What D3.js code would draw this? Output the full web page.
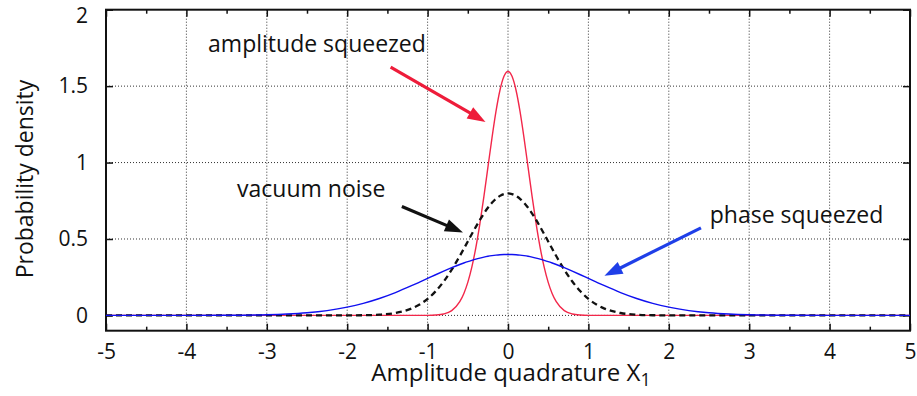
<html>
<head>
<meta charset="utf-8">
<title>Probability density</title>
<script src="https://cdnjs.cloudflare.com/ajax/libs/d3/7.8.5/d3.min.js"></script>
<style>
  body { margin: 0; background: #fff; }
  text { font-family: "Open Sans", "Noto Sans", sans-serif; fill: #111; }
</style>
</head>
<body>
<script>
// x positions the curves were read at
var xs = [-5, -4.5, -4, -3.5, -3, -2.75, -2.5, -2.25, -2, -1.8, -1.6, -1.4, -1.2, -1.1, -1, -0.9, -0.8, -0.7,
  -0.6, -0.55, -0.5, -0.45, -0.4, -0.35, -0.3, -0.25, -0.2, -0.15, -0.1, -0.05, 0,
  0.05, 0.1, 0.15, 0.2, 0.25, 0.3, 0.35, 0.4, 0.45, 0.5, 0.55, 0.6,
  0.7, 0.8, 0.9, 1, 1.1, 1.2, 1.4, 1.6, 1.8, 2, 2.25, 2.5, 2.75, 3, 3.5, 4, 4.5, 5];

// amplitude squeezed (red)
var amplitude = [0, 0, 0, 0, 0, 0, 0, 0, 0, 0, 0, 0, 0, 0.0001, 0.0005, 0.0025, 0.0095, 0.0317,
  0.0896, 0.1419, 0.2160, 0.3158, 0.4437, 0.5989, 0.7768, 0.9679, 1.1588, 1.3329, 1.4731, 1.5642, 1.5958,
  1.5642, 1.4731, 1.3329, 1.1588, 0.9679, 0.7768, 0.5989, 0.4437, 0.3158, 0.2160, 0.1419, 0.0896,
  0.0317, 0.0095, 0.0025, 0.0005, 0.0001, 0, 0, 0, 0, 0, 0, 0, 0, 0, 0, 0, 0, 0];

// vacuum noise (black dashed)
var vacuum = [0, 0, 0, 0, 0, 0, 0, 0, 0.0003, 0.0012, 0.0048, 0.0158, 0.0448, 0.0709, 0.1080, 0.1579, 0.2218, 0.2995,
  0.3884, 0.4357, 0.4839, 0.5322, 0.5794, 0.6245, 0.6665, 0.7041, 0.7366, 0.7628, 0.7821, 0.7939, 0.7979,
  0.7939, 0.7821, 0.7628, 0.7366, 0.7041, 0.6665, 0.6245, 0.5794, 0.5322, 0.4839, 0.4357, 0.3884,
  0.2995, 0.2218, 0.1579, 0.1080, 0.0709, 0.0448, 0.0158, 0.0048, 0.0012, 0.0003, 0, 0, 0, 0, 0, 0, 0, 0];

// phase squeezed (blue)
var phase = [0, 0, 0.0001, 0.0009, 0.0044, 0.0091, 0.0175, 0.0317, 0.0540, 0.0790, 0.1109, 0.1497, 0.1942, 0.2179, 0.2420, 0.2661, 0.2897, 0.3123,
  0.3332, 0.3429, 0.3521, 0.3605, 0.3683, 0.3752, 0.3814, 0.3867, 0.3910, 0.3945, 0.3970, 0.3984, 0.3989,
  0.3984, 0.3970, 0.3945, 0.3910, 0.3867, 0.3814, 0.3752, 0.3683, 0.3605, 0.3521, 0.3429, 0.3332,
  0.3123, 0.2897, 0.2661, 0.2420, 0.2179, 0.1942, 0.1497, 0.1109, 0.0790, 0.0540, 0.0317, 0.0175, 0.0091, 0.0044, 0.0009, 0.0001, 0, 0];

var xTicks = [-5, -4, -3, -2, -1, 0, 1, 2, 3, 4, 5];
var xMinor = [-4.5, -3.5, -2.5, -1.5, -0.5, 0.5, 1.5, 2.5, 3.5, 4.5];
var yTicks = [0, 0.5, 1, 1.5, 2];

// annotations: label position and arrow from -> to, in data units
var notes = [
  { text: "amplitude squeezed", tx: -3.73, ty: 1.724, x1: -1.46, y1: 1.625, x2: -0.28, y2: 1.266, color: "#ee1c3a" },
  { text: "vacuum noise", tx: -3.37, ty: 0.776, x1: -1.32, y1: 0.713, x2: -0.56, y2: 0.543, color: "#111" },
  { text: "phase squeezed", tx: 2.51, ty: 0.606, x1: 2.40, y1: 0.573, x2: 1.20, y2: 0.259, color: "#1f3fe8" }
];

var width = 917, height = 396;
var mLeft = 106, mRight = 910, mTop = 9.7, mBottom = 330.7;

var svg = d3.select("body").append("svg")
  .attr("width", width)
  .attr("height", height);

var x = d3.scaleLinear().domain([-5, 5]).range([mLeft, mRight]);
var y = d3.scaleLinear().domain([-0.1, 2]).range([mBottom, mTop]);

// grid
svg.append("g").selectAll("line")
  .data(xTicks.slice(1, -1))
  .enter().append("line")
  .attr("x1", function(d) { return x(d); })
  .attr("x2", function(d) { return x(d); })
  .attr("y1", mTop).attr("y2", mBottom)
  .attr("stroke", "#333").attr("stroke-width", 1)
  .attr("stroke-dasharray", "1,2");

svg.append("g").selectAll("line")
  .data(yTicks.slice(0, -1))
  .enter().append("line")
  .attr("x1", mLeft).attr("x2", mRight)
  .attr("y1", function(d) { return y(d); })
  .attr("y2", function(d) { return y(d); })
  .attr("stroke", "#333").attr("stroke-width", 1)
  .attr("stroke-dasharray", "1,2");

// axes (ticks point inward)
var fmt = function(d) { return d < 0 ? "-" + Math.abs(d) : "" + d; };

svg.append("g")
  .attr("class", "labelled")
  .attr("transform", "translate(0," + mBottom + ")")
  .call(d3.axisBottom(x).tickValues(xTicks).tickSizeInner(-7).tickSizeOuter(0).tickPadding(13).tickFormat(fmt));
svg.append("g")
  .attr("transform", "translate(0," + mBottom + ")")
  .call(d3.axisBottom(x).tickValues(xMinor).tickSizeInner(-4).tickSizeOuter(0).tickFormat(""));
svg.append("g")
  .attr("transform", "translate(0," + mTop + ")")
  .call(d3.axisTop(x).tickValues(xTicks).tickSizeInner(-7).tickSizeOuter(0).tickFormat(""));
svg.append("g")
  .attr("transform", "translate(0," + mTop + ")")
  .call(d3.axisTop(x).tickValues(xMinor).tickSizeInner(-4).tickSizeOuter(0).tickFormat(""));

var yAxis = svg.append("g")
  .attr("class", "labelled")
  .attr("transform", "translate(" + mLeft + ",0)")
  .call(d3.axisLeft(y).tickValues(yTicks).tickSizeInner(-7).tickSizeOuter(0).tickPadding(18).tickFormat(d3.format("")));
svg.append("g")
  .attr("transform", "translate(" + mRight + ",0)")
  .call(d3.axisRight(y).tickValues(yTicks).tickSizeInner(-7).tickSizeOuter(0).tickFormat(""));

svg.selectAll(".domain").remove();
svg.selectAll(".tick line").attr("stroke", "#111").attr("stroke-width", 1.5);
svg.selectAll(".labelled")
  .attr("font-size", 21)
  .attr("font-family", "'Open Sans', 'Noto Sans', sans-serif");
svg.selectAll(".labelled .tick text")
  .attr("fill", "#111")
  .style("font-size", "21px");
// top label sits a bit lower, as in the picture
yAxis.selectAll(".tick").filter(function(d) { return d === 2; }).select("text").attr("dy", "0.6em");

// frame
svg.append("rect")
  .attr("x", mLeft).attr("y", mTop)
  .attr("width", mRight - mLeft).attr("height", mBottom - mTop)
  .attr("fill", "none").attr("stroke", "#111").attr("stroke-width", 2);

// curves
var pts = function(vals) { return xs.map(function(v, i) { return [v, vals[i]]; }); };
var line = d3.line()
  .x(function(d) { return x(d[0]); })
  .y(function(d) { return y(d[1]); })
  .curve(d3.curveMonotoneX);

svg.append("path").datum(pts(amplitude))
  .attr("d", line).attr("fill", "none")
  .attr("stroke", "#f2274a").attr("stroke-width", 1.4);

svg.append("path").datum(pts(vacuum))
  .attr("d", line).attr("fill", "none")
  .attr("stroke", "#111").attr("stroke-width", 2.3)
  .attr("stroke-dasharray", "6,4");

svg.append("path").datum(pts(phase))
  .attr("d", line).attr("fill", "none")
  .attr("stroke", "#1010f0").attr("stroke-width", 1.4);

// annotations
var g = svg.append("g");
notes.forEach(function(n) {
  var ax = x(n.x1), ay = y(n.y1), bx = x(n.x2), by = y(n.y2);
  var ang = Math.atan2(by - ay, bx - ax);
  var len = 18, half = 6.5;
  var baseX = bx - len * Math.cos(ang), baseY = by - len * Math.sin(ang);
  g.append("line")
    .attr("x1", ax).attr("y1", ay)
    .attr("x2", baseX + 2 * Math.cos(ang)).attr("y2", baseY + 2 * Math.sin(ang))
    .attr("stroke", n.color).attr("stroke-width", 3.2);
  var p1 = [baseX - half * Math.sin(ang), baseY + half * Math.cos(ang)];
  var p2 = [baseX + half * Math.sin(ang), baseY - half * Math.cos(ang)];
  g.append("path")
    .attr("d", "M" + bx + "," + by + "L" + p1 + "L" + p2 + "Z")
    .attr("fill", n.color);
  g.append("text")
    .attr("x", x(n.tx)).attr("y", y(n.ty))
    .style("font-size", "23px")
    .text(n.text);
});

// axis titles
var xt = svg.append("text")
  .attr("x", 511).attr("y", 381)
  .attr("text-anchor", "middle")
  .style("font-size", "24px")
  .text("Amplitude quadrature X");
xt.append("tspan").attr("dy", 5).style("font-size", "18px").text("1");

svg.append("text")
  .attr("transform", "translate(33,179) rotate(-90)")
  .attr("text-anchor", "middle")
  .style("font-size", "23px")
  .text("Probability density");
</script>
</body>
</html>
